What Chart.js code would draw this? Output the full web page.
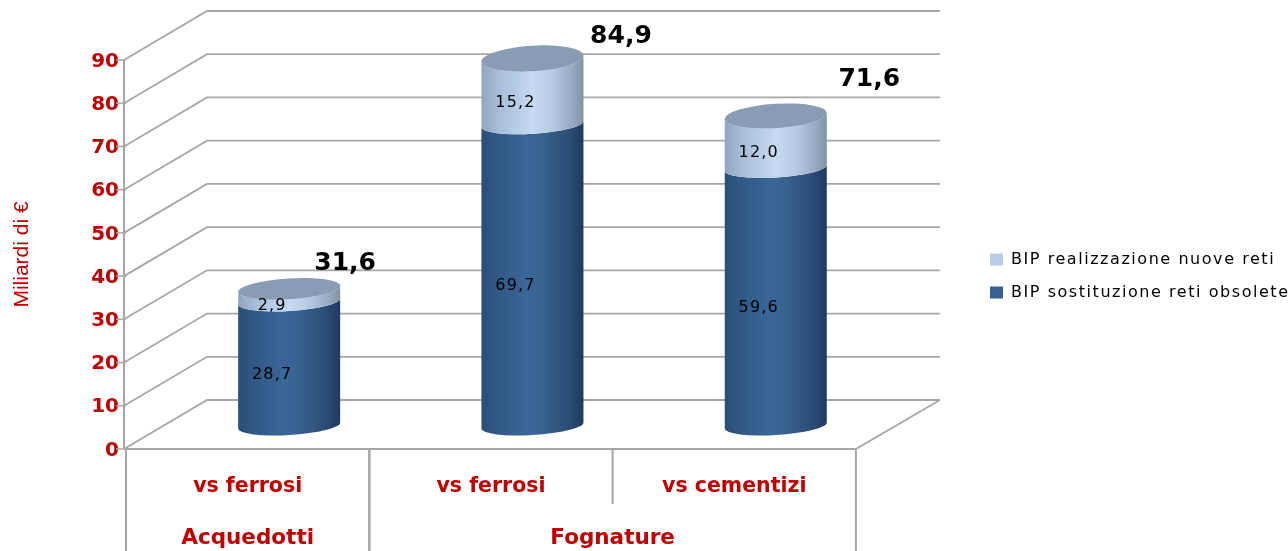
<!DOCTYPE html>
<html>
<head>
<meta charset="utf-8">
<title>BIP reti</title>
<script src="https://cdn.jsdelivr.net/npm/chart.js@4/dist/chart.umd.js"></script>
<style>
    html, body { margin: 0; padding: 0; background: #fff; }
    canvas { display: block; }
</style>
</head>
<body>
<canvas id="bipChart" width="1288" height="551"></canvas>
<script>
const categories = ['vs ferrosi', 'vs ferrosi', 'vs cementizi']
const groups = [
    { name: 'Acquedotti', from: 0, to: 0 },
    { name: 'Fognature', from: 1, to: 2 }
]
const sostituzione = [28.7, 69.7, 59.6]
const realizzazione = [2.9, 15.2, 12.0]
const totals = [31.6, 84.9, 71.6]
const yMax = 90
const yStep = 10

const RED = '#c00000'
const GRID = '#a6a6a6'
const FONT = '"DejaVu Sans", Verdana, sans-serif'

// depth of the fake 3d box, in pixels
const DEPTH_X = 83
const DEPTH_Y = -49
const TILT = -3.5 * Math.PI / 180

// hand placed totals, relative to the top of each cylinder
const totalOffsets = [[56, -25], [88.5, -22], [93.5, -37]]

const fmt = v => v.toFixed(1).replace('.', ',')

function line(ctx, points, color, width) {
    ctx.save()
    ctx.strokeStyle = color
    ctx.lineWidth = width
    ctx.lineJoin = 'miter'
    ctx.beginPath()
    points.forEach((p, i) => i ? ctx.lineTo(p[0], p[1]) : ctx.moveTo(p[0], p[1]))
    ctx.stroke()
    ctx.restore()
}

function drawWalls(chart) {
    const ctx = chart.ctx
    const y = chart.scales.y
    const area = chart.chartArea
    const left = area.left - 2

    y.ticks.forEach(t => {
        const py = y.getPixelForValue(t.value)
        line(ctx, [[left, py], [left + DEPTH_X, py + DEPTH_Y], [area.right + DEPTH_X + 1, py + DEPTH_Y]], GRID, 1.8)
        line(ctx, [[left - 8, py], [left + 2, py]], GRID, 1.5)
    })
    // floor, right side
    const y0 = y.getPixelForValue(0)
    line(ctx, [[area.right, y0], [area.right + DEPTH_X + 1, y0 + DEPTH_Y]], GRID, 1.8)
    // front vertical axis
    line(ctx, [[left, y.getPixelForValue(yMax)], [left, y0]], GRID, 2)
}

function sideGradient(ctx, x, a, stops) {
    const g = ctx.createLinearGradient(x - a, 0, x + a, 0)
    stops.forEach(s => g.addColorStop(s[0], s[1]))
    return g
}

function drawBody(ctx, x, a, yBottom, yTop, bBottom, bTop, fill) {
    ctx.fillStyle = fill
    ctx.beginPath()
    ctx.ellipse(x, yBottom, a, bBottom, TILT, 0, Math.PI)
    ctx.ellipse(x, yTop, a, bTop, TILT, Math.PI, 0, true)
    ctx.closePath()
    ctx.fill()
}

function drawCylinders(chart) {
    const ctx = chart.ctx
    const y = chart.scales.y
    const lower = chart.getDatasetMeta(0).data
    const upper = chart.getDatasetMeta(1).data
    const shiftX = DEPTH_X / 2
    const shiftY = DEPTH_Y / 2 + 1

    lower.forEach((bar, i) => {
        const x = bar.x + shiftX
        const a = bar.width / 2
        const yBase = y.getPixelForValue(0) + shiftY
        const yMid = bar.y + shiftY
        const yTop = upper[i].y + shiftY
        const bFlat = 9.5
        const bTop = 9 + 0.045 * totals[i]

        const dark = sideGradient(ctx, x, a, [[0, '#2a4c78'], [0.12, '#305783'], [0.45, '#3b6699'], [0.6, '#38628f'], [0.88, '#2a4a73'], [1, '#1e3a5f']])
        const light = sideGradient(ctx, x, a, [[0, '#8fa5bd'], [0.15, '#a5bcd6'], [0.5, '#c6daf1'], [0.7, '#b5c9e1'], [0.9, '#95a8bf'], [1, '#80919f']])

        drawBody(ctx, x, a, yBase, yMid, bFlat, bFlat, dark)
        drawBody(ctx, x, a, yMid, yTop, bFlat, bTop, light)

        ctx.fillStyle = '#8a9cb3'
        ctx.beginPath()
        ctx.ellipse(x, yTop, a, bTop, TILT, 0, Math.PI * 2)
        ctx.fill()
    })
}

function drawValueLabels(chart) {
    const ctx = chart.ctx
    const lower = chart.getDatasetMeta(0).data
    const upper = chart.getDatasetMeta(1).data
    const shiftX = DEPTH_X / 2
    const shiftY = DEPTH_Y / 2 + 1

    ctx.save()
    ctx.textAlign = 'center'
    ctx.textBaseline = 'middle'
    ctx.fillStyle = '#000'
    ctx.font = '16px ' + FONT
    ctx.letterSpacing = '1.2px'
    lower.forEach((bar, i) => {
        const x = bar.x + shiftX - 17
        const yMid = (bar.y + bar.base) / 2 + shiftY + 11
        ctx.fillText(fmt(sostituzione[i]), x, yMid)
        const yUp = (upper[i].y + upper[i].base) / 2 + shiftY + 11
        ctx.fillText(fmt(realizzazione[i]), x, yUp)
    })
    ctx.letterSpacing = '0px'
    ctx.font = 'bold 25px ' + FONT
    upper.forEach((bar, i) => {
        ctx.fillText(fmt(totals[i]), bar.x + shiftX + totalOffsets[i][0], bar.y + shiftY + totalOffsets[i][1])
    })
    ctx.restore()
}

// second level of the category axis, plus the separators under the floor
function drawGroups(chart) {
    const ctx = chart.ctx
    const xs = chart.scales.x
    const area = chart.chartArea
    const half = (xs.getPixelForTick(1) - xs.getPixelForTick(0)) / 2
    const bottom = chart.height
    const midRow = bottom - 47

    groups.forEach(g => {
        const start = xs.getPixelForTick(g.from) - half
        const end = xs.getPixelForTick(g.to) + half
        line(ctx, [[start, area.bottom], [start, bottom]], GRID, 2)
        line(ctx, [[end, area.bottom], [end, bottom]], GRID, 2)
        for (let i = g.from; i < g.to; i++) {
            const sep = xs.getPixelForTick(i) + half
            line(ctx, [[sep, area.bottom], [sep, midRow]], GRID, 2)
        }
        ctx.save()
        ctx.font = 'bold 21.5px ' + FONT
        ctx.fillStyle = RED
        ctx.textAlign = 'center'
        ctx.textBaseline = 'middle'
        ctx.fillText(g.name, (start + end) / 2, bottom - 13)
        ctx.restore()
    })
}

const boxPlugin = {
    id: 'box3d',
    afterLayout(chart) {
        // legend sits in the free band on the right
        const legend = chart.legend
        const shift = 276 - (legend.top + legend.bottom) / 2
        legend.top += shift
        legend.bottom += shift
        legend.left = 990 - legend.options.labels.padding
        legend.right = chart.width
        if (!legend.spacedDraw) {
            const draw = legend.draw
            legend.draw = function () {
                this.ctx.save()
                this.ctx.letterSpacing = '1.55px'
                draw.call(this)
                this.ctx.restore()
            }
            legend.spacedDraw = true
        }
    },
    beforeDatasetsDraw(chart) {
        drawWalls(chart)
        drawCylinders(chart)
        drawValueLabels(chart)
        return false
    },
    afterDraw(chart) {
        drawGroups(chart)
    }
}

new Chart(document.getElementById('bipChart'), {
    type: 'bar',
    data: {
        labels: categories,
        datasets: [
            { label: 'BIP sostituzione reti obsolete', data: sostituzione, backgroundColor: '#376092' },
            { label: 'BIP realizzazione nuove reti', data: realizzazione, backgroundColor: '#b9cde5' }
        ]
    },
    options: {
        responsive: false,
        animation: false,
        barPercentage: 0.42,
        categoryPercentage: 1,
        layout: { padding: { top: 60, right: 152, bottom: 0, left: 0 } },
        plugins: {
            legend: {
                position: 'right',
                reverse: true,
                labels: {
                    boxWidth: 13,
                    boxHeight: 12,
                    padding: 17,
                    color: '#000',
                    font: { family: FONT, size: 16 }
                }
            },
            tooltip: { enabled: false }
        },
        scales: {
            x: {
                stacked: true,
                grid: { display: false },
                border: { display: true, color: GRID, width: 2 },
                ticks: {
                    color: RED,
                    padding: 17,
                    maxRotation: 0,
                    font: { family: FONT, size: 20.5, weight: 'bold' }
                },
                afterFit(scale) { scale.height = 102 }
            },
            y: {
                stacked: true,
                min: 0,
                max: yMax,
                grid: { display: false },
                border: { display: false },
                ticks: {
                    stepSize: yStep,
                    color: RED,
                    padding: -1,
                    labelOffset: 1.5,
                    font: { family: FONT, size: 20, weight: 'bold' }
                },
                title: {
                    display: true,
                    text: 'Miliardi di €',
                    color: RED,
                    padding: { top: 10, bottom: 0 },
                    font: { family: '"Liberation Sans Narrow", "Liberation Sans", sans-serif', size: 21 }
                },
                afterFit(scale) { scale.width = 126 }
            }
        }
    },
    plugins: [boxPlugin]
})
</script>
</body>
</html>
